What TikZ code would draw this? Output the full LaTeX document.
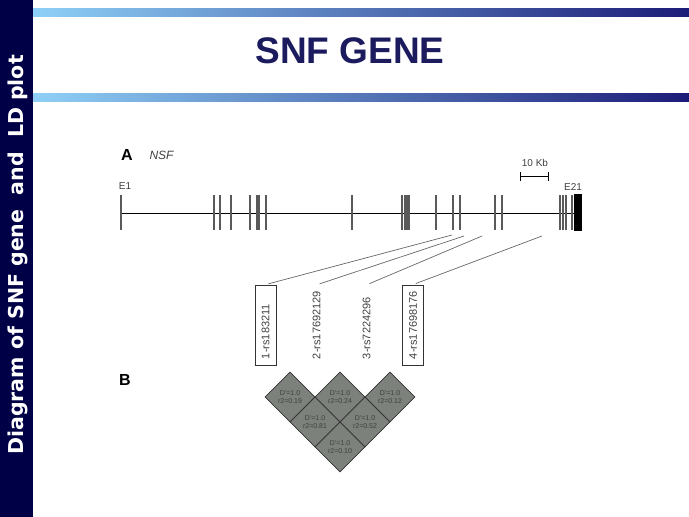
\documentclass[tikz,border=0pt]{standalone}
\usepackage{fontspec}
\setmainfont{Liberation Sans}
\newfontfamily\barrafont{DejaVu Sans}
\usetikzlibrary{shapes.geometric}
\definecolor{marino}{HTML}{000046}
\definecolor{titulo}{HTML}{1B1B5E}
\definecolor{celeste}{HTML}{8ED0F7}
\definecolor{azulfin}{HTML}{1C1C78}
\definecolor{celda}{HTML}{7C817C}
\definecolor{trazo}{HTML}{5A5A5A}

\begin{document}
\begin{tikzpicture}[x=1pt, y=-1pt,
    exon/.style={draw=trazo, line width=1.1pt},
    rotulo/.style={font=\fontsize{10}{12}\selectfont, text=black!75},
    snp/.style={rotate=90, font=\fontsize{11}{12}\selectfont, text=black!75,
        text width=68pt, align=left, minimum height=21pt, inner xsep=6pt, inner ysep=0pt},
    caja/.style={draw=black!80, line width=0.8pt},
    enlace/.style={draw=black!60, line width=0.7pt, shorten >=3pt},
    celdald/.style={diamond, draw=black!80, fill=celda, line width=0.7pt,
        minimum width=50pt, minimum height=50pt, inner sep=0pt,
        font=\fontsize{7}{8}\selectfont, text=black!75, align=center}]

    \useasboundingbox (0,0) rectangle (689,517);

    % barra lateral
    \fill[marino] (0,0) rectangle (33,517);
    \node[rotate=90, text=white, font=\barrafont\bfseries\fontsize{20.5}{22}\selectfont]
        (lateral) at (18,255) {Diagram of SNF gene\ \ and\ \ LD plot};

    % franjas y titulo
    \shade[left color=celeste, right color=azulfin] (33,8) rectangle (689,16);
    \shade[left color=celeste, right color=azulfin] (33,93) rectangle (689,101);
    \node[text=titulo, font=\bfseries\fontsize{37}{40}\selectfont] (titulo) at (350,51) {SNF GENE};

    % A: el gen
    \node[font=\bfseries\fontsize{16}{18}\selectfont] (A) at (127,155) {A};
    \node[rotulo, font=\itshape\fontsize{12}{14}\selectfont, anchor=west] (nsf) at (146,155) {NSF};
    \coordinate (ini) at (121,213);
    \coordinate (fin) at (578,213);
    \draw[line width=0.9pt] (ini) -- (fin);
    \draw[exon] (121,195) -- (121,230);
    \node[rotulo] (e1) at (125,186) {E1};
    \foreach \x in {214,220,231,250,257,259,266,352,402,405,407,409,436,453,460,495,502,560,563,566,572}
        \draw[exon] (\x,195) -- (\x,230);
    \fill (574,194) rectangle (582,231);
    \node[rotulo] (e21) at (573,187) {E21};

    % escala
    \draw[line width=0.8pt] (520,172) -- (520,181) (520,176.5) -- (548,176.5) (548,172) -- (548,181);
    \node[rotulo] (kb) at (535,163) {10 Kb};

    % marcadores
    \node[snp, caja] (snp1) at (265.5,325) {1-rs183211};
    \node[snp] (snp2) at (316.7,325) {2-rs17692129};
    \node[snp] (snp3) at (366.7,325) {3-rs7224296};
    \node[snp, caja] (snp4) at (413,325) {4-rs17698176};

    \coordinate (c1) at (452,235);
    \coordinate (c2) at (464,236);
    \coordinate (c3) at (482,236);
    \coordinate (c4) at (542,236);
    \foreach \i in {1,...,4}
        \draw[enlace] (c\i) -- (snp\i.east);

    % B: mapa LD
    \node[font=\bfseries\fontsize{16}{18}\selectfont] (B) at (125,380) {B};
    \foreach \px/\py/\rr [count=\i] in {290/397/0.19, 340/397/0.24, 390/397/0.12,
            315/422/0.81, 365/422/0.52, 340/447/0.10}
        \node[celdald] (ld\i) at (\px,\py) {D'=1.0\\r2=\rr};

\end{tikzpicture}
\end{document}
